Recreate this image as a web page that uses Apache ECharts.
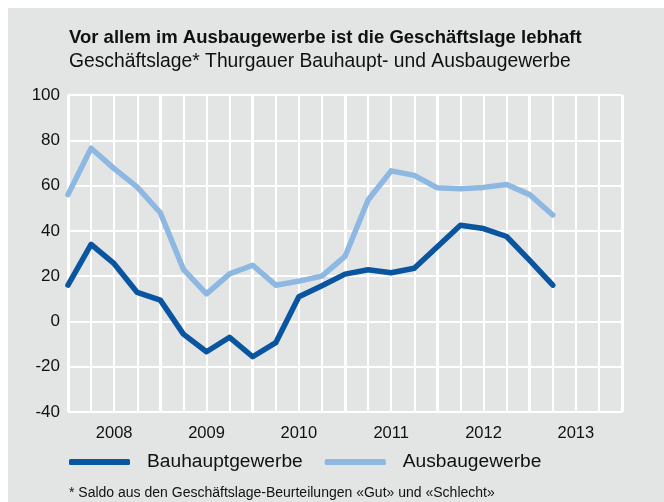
<!DOCTYPE html>
<html>
<head>
<meta charset="utf-8">
<script src="https://cdn.jsdelivr.net/npm/echarts@6/dist/echarts.min.js"></script>
<style>
html,body{margin:0;padding:0;background:#fff;}
#c{width:664px;height:502px;background:linear-gradient(#e3e4e4,#e3e4e4) no-repeat 8px 8px / 656px 494px, #fff;}
</style>
</head>
<body>
<div id="c"></div>
<script>
// Data (quarterly, starting Q1 2008)
var years = ['2008', '2009', '2010', '2011', '2012', '2013'];
var seriesNames = ['Bauhauptgewerbe', 'Ausbaugewerbe'];
var bauhaupt = [16, 34, 25.5, 12.8, 9.4, -5.6, -13.4, -7, -15.6, -9.4, 10.9, 15.8, 20.9, 22.8, 21.5, 23.5, 33, 42.5, 41, 37.5, 27, 16];
var ausbau = [56, 76.5, 67.5, 59.3, 48, 23, 12.2, 21, 24.8, 16, 17.8, 20, 28.7, 53.6, 66.5, 64.5, 59, 58.6, 59.2, 60.5, 56, 47];
var yTicks = [-40, -20, 0, 20, 40, 60, 80, 100];

var FONT = '"Liberation Sans", Arial, sans-serif';
var quarters = years.length * 4;
function toPairs(arr) { return arr.map(function (v, i) { return [i, v]; }); }

var chart = echarts.init(document.getElementById('c'), null, {renderer: 'canvas'});
chart.setOption({
  backgroundColor: 'transparent',
  animation: false,
  title: {
    text: 'Vor allem im Ausbaugewerbe ist die Geschäftslage lebhaft',
    subtext: 'Geschäftslage* Thurgauer Bauhaupt- und Ausbaugewerbe',
    left: 69, top: 27, padding: 0, itemGap: 2,
    textStyle: {fontFamily: FONT, fontWeight: 'bold', fontSize: 18.5, lineHeight: 22, color: '#111'},
    subtextStyle: {fontFamily: FONT, fontSize: 19.3, lineHeight: 22, color: '#111'}
  },
  legend: {
    left: 69, top: 452, padding: 0, itemGap: 22,
    icon: 'roundRect', itemWidth: 61, itemHeight: 6,
    textStyle: {fontFamily: FONT, fontSize: 19.2, lineHeight: 20, color: '#111', padding: [0, 0, 0, 12]},
    data: seriesNames
  },
  grid: {left: 68, right: 42, top: 95, bottom: 90, containLabel: false},
  xAxis: [{
    type: 'value', min: 0, max: quarters, interval: 1,
    axisLine: {show: false}, axisTick: {show: false},
    axisLabel: {
      show: true, margin: 13, fontFamily: FONT, fontSize: 16.5, color: '#111',
      showMinLabel: true, showMaxLabel: true, hideOverlap: false,
      formatter: function (v) { return (v % 4 === 2) ? years[(v - 2) / 4] : ''; }
    },
    splitLine: {show: true, lineStyle: {color: '#ffffff', width: 2}}
  }, {
    type: 'value', min: 0, max: quarters, interval: 4,
    axisLine: {show: false}, axisTick: {show: false}, axisLabel: {show: false},
    splitLine: {show: true, lineStyle: {color: '#ffffff', width: 3}}
  }],
  yAxis: {
    type: 'value', min: yTicks[0], max: yTicks[yTicks.length - 1], interval: 20,
    axisLine: {show: false}, axisTick: {show: false},
    axisLabel: {margin: 8, fontFamily: FONT, fontSize: 17, color: '#111'},
    splitLine: {show: true, lineStyle: {color: '#ffffff', width: 2}}
  },
  series: [{
    name: seriesNames[0], type: 'line', data: toPairs(bauhaupt),
    symbol: 'none', z: 4,
    lineStyle: {color: '#0a55a0', width: 5.5, cap: 'round', join: 'round'},
    itemStyle: {color: '#0a55a0'}
  }, {
    name: seriesNames[1], type: 'line', data: toPairs(ausbau),
    symbol: 'none', z: 3,
    lineStyle: {color: '#8cb8e1', width: 5.5, cap: 'round', join: 'round'},
    itemStyle: {color: '#8cb8e1'}
  }],
  graphic: [{
    type: 'text', left: 69, top: 486,
    style: {text: '* Saldo aus den Geschäftslage-Beurteilungen «Gut» und «Schlecht»', font: '14px ' + FONT, fill: '#111'}
  }]
});
</script>
</body>
</html>
